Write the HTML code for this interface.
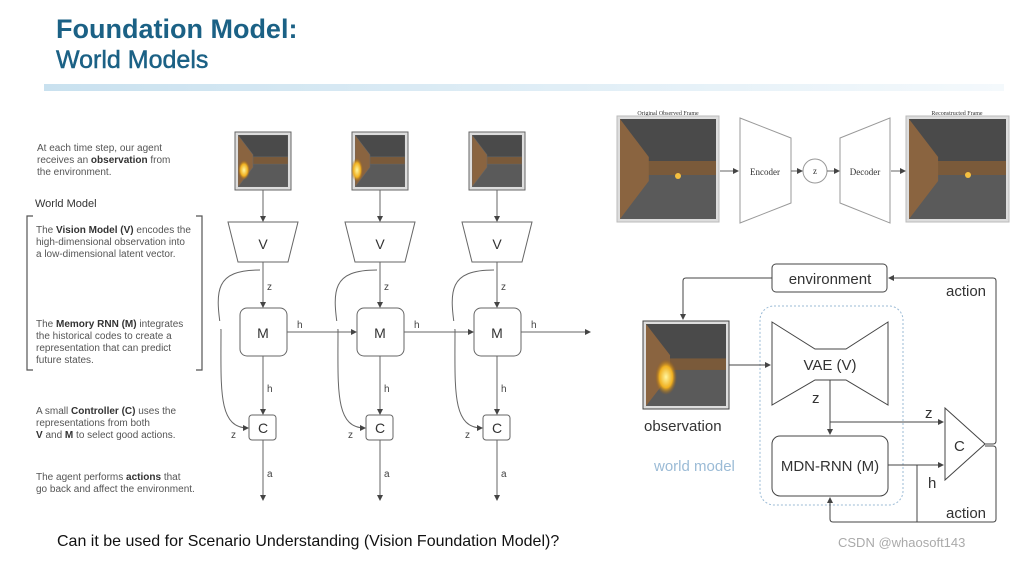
<!DOCTYPE html>
<html><head><meta charset="utf-8"><style>
body{margin:0;width:1024px;height:558px;background:#fff;overflow:hidden;font-family:"Liberation Sans",sans-serif}
</style></head><body>
<svg width="1024" height="558" viewBox="0 0 1024 558" xmlns="http://www.w3.org/2000/svg" font-family="Liberation Sans, sans-serif">
<defs>
<linearGradient id="bar" x1="0" x2="1"><stop offset="0" stop-color="#c9e1ef"/><stop offset="1" stop-color="#f4f9fc"/></linearGradient>
<marker id="ar" markerWidth="6" markerHeight="6" refX="5" refY="3" orient="auto"><path d="M0,0 L6,3 L0,6z" fill="#444"/></marker>
<radialGradient id="glow"><stop offset="0" stop-color="#fff6a0"/><stop offset="0.6" stop-color="#f0b020"/><stop offset="1" stop-color="#a06010" stop-opacity="0"/></radialGradient>
<symbol id="frame" viewBox="0 0 100 100" preserveAspectRatio="none">
<rect width="100" height="100" fill="#555"/>
<rect y="55" width="100" height="45" fill="#5a5a5a"/>
<rect y="0" width="100" height="45" fill="#4a4a4a"/>
<rect x="20" y="42" width="80" height="14" fill="#7a5a3a"/>
<path d="M0,0 L30,38 L30,62 L0,100z" fill="#8a6440"/>
</symbol>
</defs>
<text x="56" y="38" font-size="27" font-weight="bold" fill="#1b6185">Foundation Model:</text>
<text x="56" y="68" font-size="25" fill="#1b6185" stroke="#1b6185" stroke-width="0.5">World Models</text>
<rect x="44" y="84" width="960" height="7" fill="url(#bar)"/>

<g font-size="10" fill="#555">
<text x="37" y="151">At each time step, our agent</text>
<text x="37" y="163">receives an <tspan font-weight="bold" fill="#333">observation</tspan> from</text>
<text x="37" y="175">the environment.</text>
<text x="35" y="207" font-size="11" fill="#333">World Model</text>
<text x="36" y="233">The <tspan font-weight="bold" fill="#333">Vision Model (V)</tspan> encodes the</text>
<text x="36" y="245">high-dimensional observation into</text>
<text x="36" y="257">a low-dimensional latent vector.</text>
<text x="36" y="327">The <tspan font-weight="bold" fill="#333">Memory RNN (M)</tspan> integrates</text>
<text x="36" y="339">the historical codes to create a</text>
<text x="36" y="351">representation that can predict</text>
<text x="36" y="363">future states.</text>
<text x="36" y="414">A small <tspan font-weight="bold" fill="#333">Controller (C)</tspan> uses the</text>
<text x="36" y="426">representations from both</text>
<text x="36" y="438"><tspan font-weight="bold" fill="#333">V</tspan> and <tspan font-weight="bold" fill="#333">M</tspan> to select good actions.</text>
<text x="36" y="480">The agent performs <tspan font-weight="bold" fill="#333">actions</tspan> that</text>
<text x="36" y="492">go back and affect the environment.</text>
</g>
<path d="M33,216 H27 V370 H33 M196,216 H202 V370 H196" fill="none" stroke="#555" stroke-width="1.2"/>

<g stroke="#666" stroke-width="1" fill="none">
 <g>
 <rect x="235" y="132" width="56" height="58" fill="#ddd"/><use href="#frame" x="238" y="135" width="50" height="52"/>
 <line x1="263" y1="190" x2="263" y2="221" marker-end="url(#ar)"/>
 <path d="M228,222 H298 L288,262 H238z" fill="#fff"/>
 <line x1="263" y1="262" x2="263" y2="307" marker-end="url(#ar)"/>
 <rect x="240" y="308" width="47" height="48" rx="7" fill="#fff"/>
 <line x1="263" y1="356" x2="263" y2="414" marker-end="url(#ar)"/>
 <rect x="249" y="415" width="27" height="25" rx="3" fill="#fff"/>
 <line x1="263" y1="440" x2="263" y2="500" marker-end="url(#ar)"/>
 <path d="M260,270 C215,270 215,290 221,330 C221,390 218,428 248,428" marker-end="url(#ar)"/>
 <line x1="287" y1="332" x2="356" y2="332" marker-end="url(#ar)"/>
 </g>
 <g transform="translate(117,0)">
 <rect x="235" y="132" width="56" height="58" fill="#ddd"/><use href="#frame" x="238" y="135" width="50" height="52"/>
 <line x1="263" y1="190" x2="263" y2="221" marker-end="url(#ar)"/>
 <path d="M228,222 H298 L288,262 H238z" fill="#fff"/>
 <line x1="263" y1="262" x2="263" y2="307" marker-end="url(#ar)"/>
 <rect x="240" y="308" width="47" height="48" rx="7" fill="#fff"/>
 <line x1="263" y1="356" x2="263" y2="414" marker-end="url(#ar)"/>
 <rect x="249" y="415" width="27" height="25" rx="3" fill="#fff"/>
 <line x1="263" y1="440" x2="263" y2="500" marker-end="url(#ar)"/>
 <path d="M260,270 C215,270 215,290 221,330 C221,390 218,428 248,428" marker-end="url(#ar)"/>
 <line x1="287" y1="332" x2="356" y2="332" marker-end="url(#ar)"/>
 </g>
 <g transform="translate(234,0)">
 <rect x="235" y="132" width="56" height="58" fill="#ddd"/><use href="#frame" x="238" y="135" width="50" height="52"/>
 <line x1="263" y1="190" x2="263" y2="221" marker-end="url(#ar)"/>
 <path d="M228,222 H298 L288,262 H238z" fill="#fff"/>
 <line x1="263" y1="262" x2="263" y2="307" marker-end="url(#ar)"/>
 <rect x="240" y="308" width="47" height="48" rx="7" fill="#fff"/>
 <line x1="263" y1="356" x2="263" y2="414" marker-end="url(#ar)"/>
 <rect x="249" y="415" width="27" height="25" rx="3" fill="#fff"/>
 <line x1="263" y1="440" x2="263" y2="500" marker-end="url(#ar)"/>
 <path d="M260,270 C215,270 215,290 221,330 C221,390 218,428 248,428" marker-end="url(#ar)"/>
 <line x1="287" y1="332" x2="356" y2="332" marker-end="url(#ar)"/>
 </g>
</g>
<g fill="#fff" stroke="none">
<rect x="219" y="321" width="5" height="8"/><rect x="336" y="321" width="5" height="8"/><rect x="453" y="321" width="5" height="8"/>
</g>
<g fill="#333" font-size="14" text-anchor="middle">
<text x="263" y="249">V</text><text x="380" y="249">V</text><text x="497" y="249">V</text>
<text x="263" y="338">M</text><text x="380" y="338">M</text><text x="497" y="338">M</text>
<text x="263" y="433">C</text><text x="380" y="433">C</text><text x="497" y="433">C</text>
</g>
<g fill="#444" font-size="10">
<text x="267" y="290">z</text><text x="384" y="290">z</text><text x="501" y="290">z</text>
<text x="297" y="328">h</text><text x="414" y="328">h</text><text x="531" y="328">h</text>
<text x="267" y="392">h</text><text x="384" y="392">h</text><text x="501" y="392">h</text>
<text x="231" y="438">z</text><text x="348" y="438">z</text><text x="465" y="438">z</text>
<text x="267" y="477">a</text><text x="384" y="477">a</text><text x="501" y="477">a</text>
</g>

<g font-family="Liberation Serif, serif" fill="#333">
<text x="668" y="115" font-size="6" text-anchor="middle">Original Observed Frame</text>
<text x="957" y="115" font-size="6" text-anchor="middle">Reconstructed Frame</text>
<rect x="617" y="116" width="102" height="106" fill="#ddd" stroke="#bbb"/>
<use href="#frame" x="620" y="119" width="96" height="100"/>
<rect x="906" y="116" width="103" height="106" fill="#ddd" stroke="#bbb"/>
<use href="#frame" x="909" y="119" width="97" height="100"/>
<path d="M740,118 L791,138 L791,203 L740,223z M890,118 L840,138 L840,203 L890,223z" fill="#fff" stroke="#999"/>
<circle cx="815" cy="171" r="12" fill="#fff" stroke="#999"/>
<text x="765" y="175" font-size="9" text-anchor="middle">Encoder</text>
<text x="815" y="174" font-size="9" text-anchor="middle">z</text>
<text x="865" y="175" font-size="9" text-anchor="middle">Decoder</text>
<g stroke="#666"><line x1="720" y1="171" x2="738" y2="171" marker-end="url(#ar)"/><line x1="791" y1="171" x2="802" y2="171" marker-end="url(#ar)"/><line x1="827" y1="171" x2="839" y2="171" marker-end="url(#ar)"/><line x1="891" y1="171" x2="905" y2="171" marker-end="url(#ar)"/></g>
</g>
<circle cx="678" cy="176" r="3" fill="#f5c040"/><circle cx="968" cy="175" r="3" fill="#f5c040"/>

<g stroke="#444" stroke-width="1" fill="none">
<rect x="772" y="264" width="115" height="28" rx="4" fill="#fff"/>
<rect x="760" y="306" width="143" height="199" rx="14" stroke="#9bbbd6" stroke-dasharray="2,2"/>
<rect x="643" y="321" width="86" height="88" fill="#ddd"/>
<path d="M772,322 L815,349 H846 L888,322 V405 L846,380 H815 L772,405z" fill="#fff"/>
<rect x="772" y="436" width="116" height="60" rx="8" fill="#fff"/>
<path d="M945,408 L985,444 L945,480z" fill="#fff"/>
<path d="M772,278 H686 Q683,278 683,281 V319" marker-end="url(#ar)"/>
<line x1="729" y1="365" x2="770" y2="365" marker-end="url(#ar)"/>
<line x1="830" y1="380" x2="830" y2="434" marker-end="url(#ar)"/>
<line x1="830" y1="422" x2="943" y2="422" marker-end="url(#ar)"/>
<line x1="888" y1="465" x2="943" y2="465" marker-end="url(#ar)"/>
<path d="M985,444 H993 Q996,444 996,441 V281 Q996,278 993,278 H889" marker-end="url(#ar)"/>
<path d="M985,446 H993 Q996,446 996,449 V519 Q996,522 993,522 H833 Q830,522 830,519 V498" marker-end="url(#ar)"/>
<line x1="917" y1="465" x2="917" y2="522"/>
</g>
<use href="#frame" x="646" y="324" width="80" height="82"/>
<ellipse cx="666" cy="377" rx="11" ry="18" fill="url(#glow)"/>
<ellipse cx="244" cy="170" rx="6" ry="10" fill="url(#glow)"/>
<ellipse cx="357" cy="170" rx="6" ry="12" fill="url(#glow)"/>
<g fill="#333" font-size="15">
<text x="830" y="284" text-anchor="middle">environment</text>
<text x="946" y="296">action</text>
<text x="946" y="518">action</text>
<text x="830" y="370" text-anchor="middle">VAE (V)</text>
<text x="830" y="471" text-anchor="middle">MDN-RNN (M)</text>
<text x="644" y="431">observation</text>
<text x="812" y="403">z</text>
<text x="925" y="418">z</text>
<text x="928" y="488">h</text>
<text x="954" y="451">C</text>
<text x="654" y="471" fill="#9bbbd6">world model</text>
</g>
<text x="57" y="546" font-size="16" fill="#111">Can it be used for Scenario Understanding (Vision Foundation Model)?</text>
<text x="838" y="547" font-size="13" fill="#aaa">CSDN @whaosoft143</text>
</svg>
</body></html>
